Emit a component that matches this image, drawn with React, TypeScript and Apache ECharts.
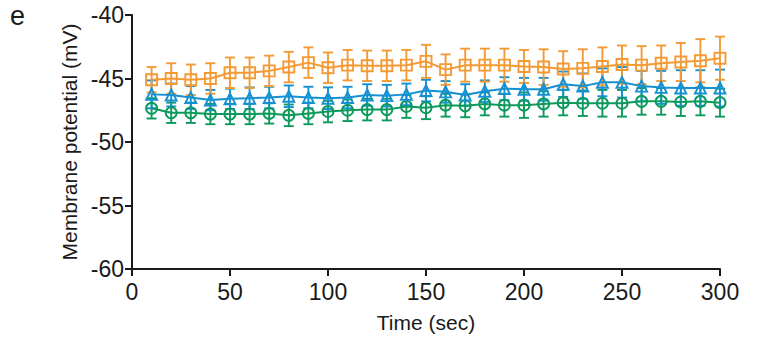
import React, { useEffect, useRef } from "react";
import * as echarts from "echarts";

const times = [10, 20, 30, 40, 50, 60, 70, 80, 90, 100, 110, 120, 130, 140, 150, 160, 170, 180, 190, 200, 210, 220, 230, 240, 250, 260, 270, 280, 290, 300];

const orangeMean = [-45.1, -45.0, -45.1, -45.0, -44.55, -44.55, -44.4, -44.1, -43.75, -44.15, -43.95, -44.0, -44.0, -43.95, -43.65, -44.3, -43.95, -43.95, -43.95, -44.05, -44.1, -44.25, -44.2, -44.05, -43.9, -43.95, -43.8, -43.7, -43.6, -43.4];
const orangeSem = [1.0, 1.2, 1.2, 1.2, 1.2, 1.2, 1.2, 1.2, 1.2, 1.2, 1.2, 1.2, 1.2, 1.2, 1.3, 1.2, 1.3, 1.3, 1.3, 1.3, 1.4, 1.4, 1.5, 1.5, 1.5, 1.5, 1.4, 1.5, 1.7, 1.7];

const blueMean = [-46.25, -46.3, -46.5, -46.7, -46.6, -46.55, -46.5, -46.4, -46.5, -46.55, -46.5, -46.3, -46.35, -46.25, -45.95, -46.05, -46.3, -46.0, -45.8, -45.85, -45.85, -45.45, -45.6, -45.3, -45.3, -45.6, -45.7, -45.75, -45.75, -45.75];
const blueSem = [1.1, 0.9, 0.9, 0.8, 0.8, 0.85, 0.85, 0.85, 0.85, 0.85, 0.85, 0.85, 0.85, 0.85, 0.85, 0.85, 0.85, 0.85, 0.9, 0.9, 0.9, 1.0, 1.0, 1.1, 1.2, 1.2, 1.3, 1.4, 1.4, 1.45];

const greenMean = [-47.35, -47.7, -47.7, -47.8, -47.8, -47.8, -47.75, -47.9, -47.75, -47.6, -47.5, -47.45, -47.45, -47.2, -47.3, -47.1, -47.15, -47.0, -47.1, -47.1, -47.0, -46.9, -46.95, -46.95, -46.95, -46.8, -46.8, -46.85, -46.8, -46.9];
const greenSem = [0.8, 0.8, 0.8, 0.8, 0.8, 0.8, 0.8, 0.85, 0.85, 0.85, 0.85, 0.85, 0.85, 0.9, 0.9, 0.9, 0.9, 0.9, 0.9, 1.0, 1.0, 1.0, 1.0, 1.05, 1.05, 1.05, 1.05, 1.1, 1.1, 1.1];

const xTicks = [0, 50, 100, 150, 200, 250, 300];
const yTicks = [-60, -55, -50, -45, -40];

const ORANGE = "#F39A35";
const BLUE = "#1591D3";
const GREEN = "#0C9A5C";
const FONT = "Liberation Sans, Arial, sans-serif";
const INK = "#1a1a1a";

function errorSeries(name: string, mean: number[], sem: number[], color: string) {
  const data = times.map((t, i) => [t, mean[i] - sem[i], mean[i] + sem[i]]);
  return {
    type: "custom",
    name: name + "-err",
    z: 2,
    data,
    renderItem: (params: any, api: any) => {
      const x = api.value(0);
      const lo = api.coord([x, api.value(1)]);
      const hi = api.coord([x, api.value(2)]);
      const hw = 5;
      const style = { stroke: color, lineWidth: 1.9, fill: "none" };
      return {
        type: "group",
        children: [
          { type: "line", shape: { x1: lo[0], y1: lo[1], x2: hi[0], y2: hi[1] }, style },
          { type: "line", shape: { x1: lo[0] - hw, y1: lo[1], x2: lo[0] + hw, y2: lo[1] }, style },
          { type: "line", shape: { x1: hi[0] - hw, y1: hi[1], x2: hi[0] + hw, y2: hi[1] }, style },
        ],
      };
    },
    silent: true,
  };
}

function lineSeries(name: string, mean: number[], color: string, symbol: string, size: number) {
  return {
    type: "line",
    name,
    z: 3,
    data: times.map((t, i) => [t, mean[i]]),
    symbol,
    symbolSize: size,
    showSymbol: true,
    lineStyle: { color, width: 2 },
    itemStyle: { color: "rgba(255,255,255,0)", borderColor: color, borderWidth: 1.9 },
    emphasis: { disabled: true },
  };
}

export default function App() {
  const ref = useRef<HTMLDivElement>(null);
  useEffect(() => {
    if (!ref.current) return;
    const chart = echarts.init(ref.current, undefined, { renderer: "svg" });
    chart.setOption({
      animation: false,
      backgroundColor: "#ffffff",
      grid: { left: 132, right: 37, top: 15, bottom: 63, containLabel: false },
      graphic: [
        {
          type: "text",
          left: 10,
          top: 2,
          style: { text: "e", font: "27px " + FONT, fill: INK },
        },
      ],
      xAxis: {
        type: "value",
        min: 0,
        max: 300,
        interval: 50,
        name: "Time (sec)",
        nameLocation: "middle",
        nameGap: 43,
        nameTextStyle: { fontFamily: FONT, fontSize: 21, color: INK },
        axisLine: { show: true, lineStyle: { color: INK, width: 2 } },
        axisTick: { show: true, length: 7, lineStyle: { color: INK, width: 2 } },
        axisLabel: { fontFamily: FONT, fontSize: 23, color: INK, margin: 11, customValues: xTicks },
        splitLine: { show: false },
      },
      yAxis: {
        type: "value",
        min: -60,
        max: -40,
        interval: 5,
        name: "Membrane potential (mV)",
        nameLocation: "middle",
        nameGap: 44,
        nameRotate: 90,
        nameTextStyle: { fontFamily: FONT, fontSize: 21, color: INK },
        axisLine: { show: true, lineStyle: { color: INK, width: 2 } },
        axisTick: { show: true, length: 7, lineStyle: { color: INK, width: 2 } },
        axisLabel: { fontFamily: FONT, fontSize: 23, color: INK, margin: 8, customValues: yTicks },
        splitLine: { show: false },
      },
      series: [
        errorSeries("green", greenMean, greenSem, GREEN),
        errorSeries("blue", blueMean, blueSem, BLUE),
        errorSeries("orange", orangeMean, orangeSem, ORANGE),
        lineSeries("green", greenMean, GREEN, "circle", 11),
        lineSeries("blue", blueMean, BLUE, "triangle", 11),
        lineSeries("orange", orangeMean, ORANGE, "rect", 11),
      ],
    });
    return () => chart.dispose();
  }, []);
  return <div ref={ref} style={{ width: 757, height: 338, position: "absolute", left: 0, top: 0 }} />;
}
